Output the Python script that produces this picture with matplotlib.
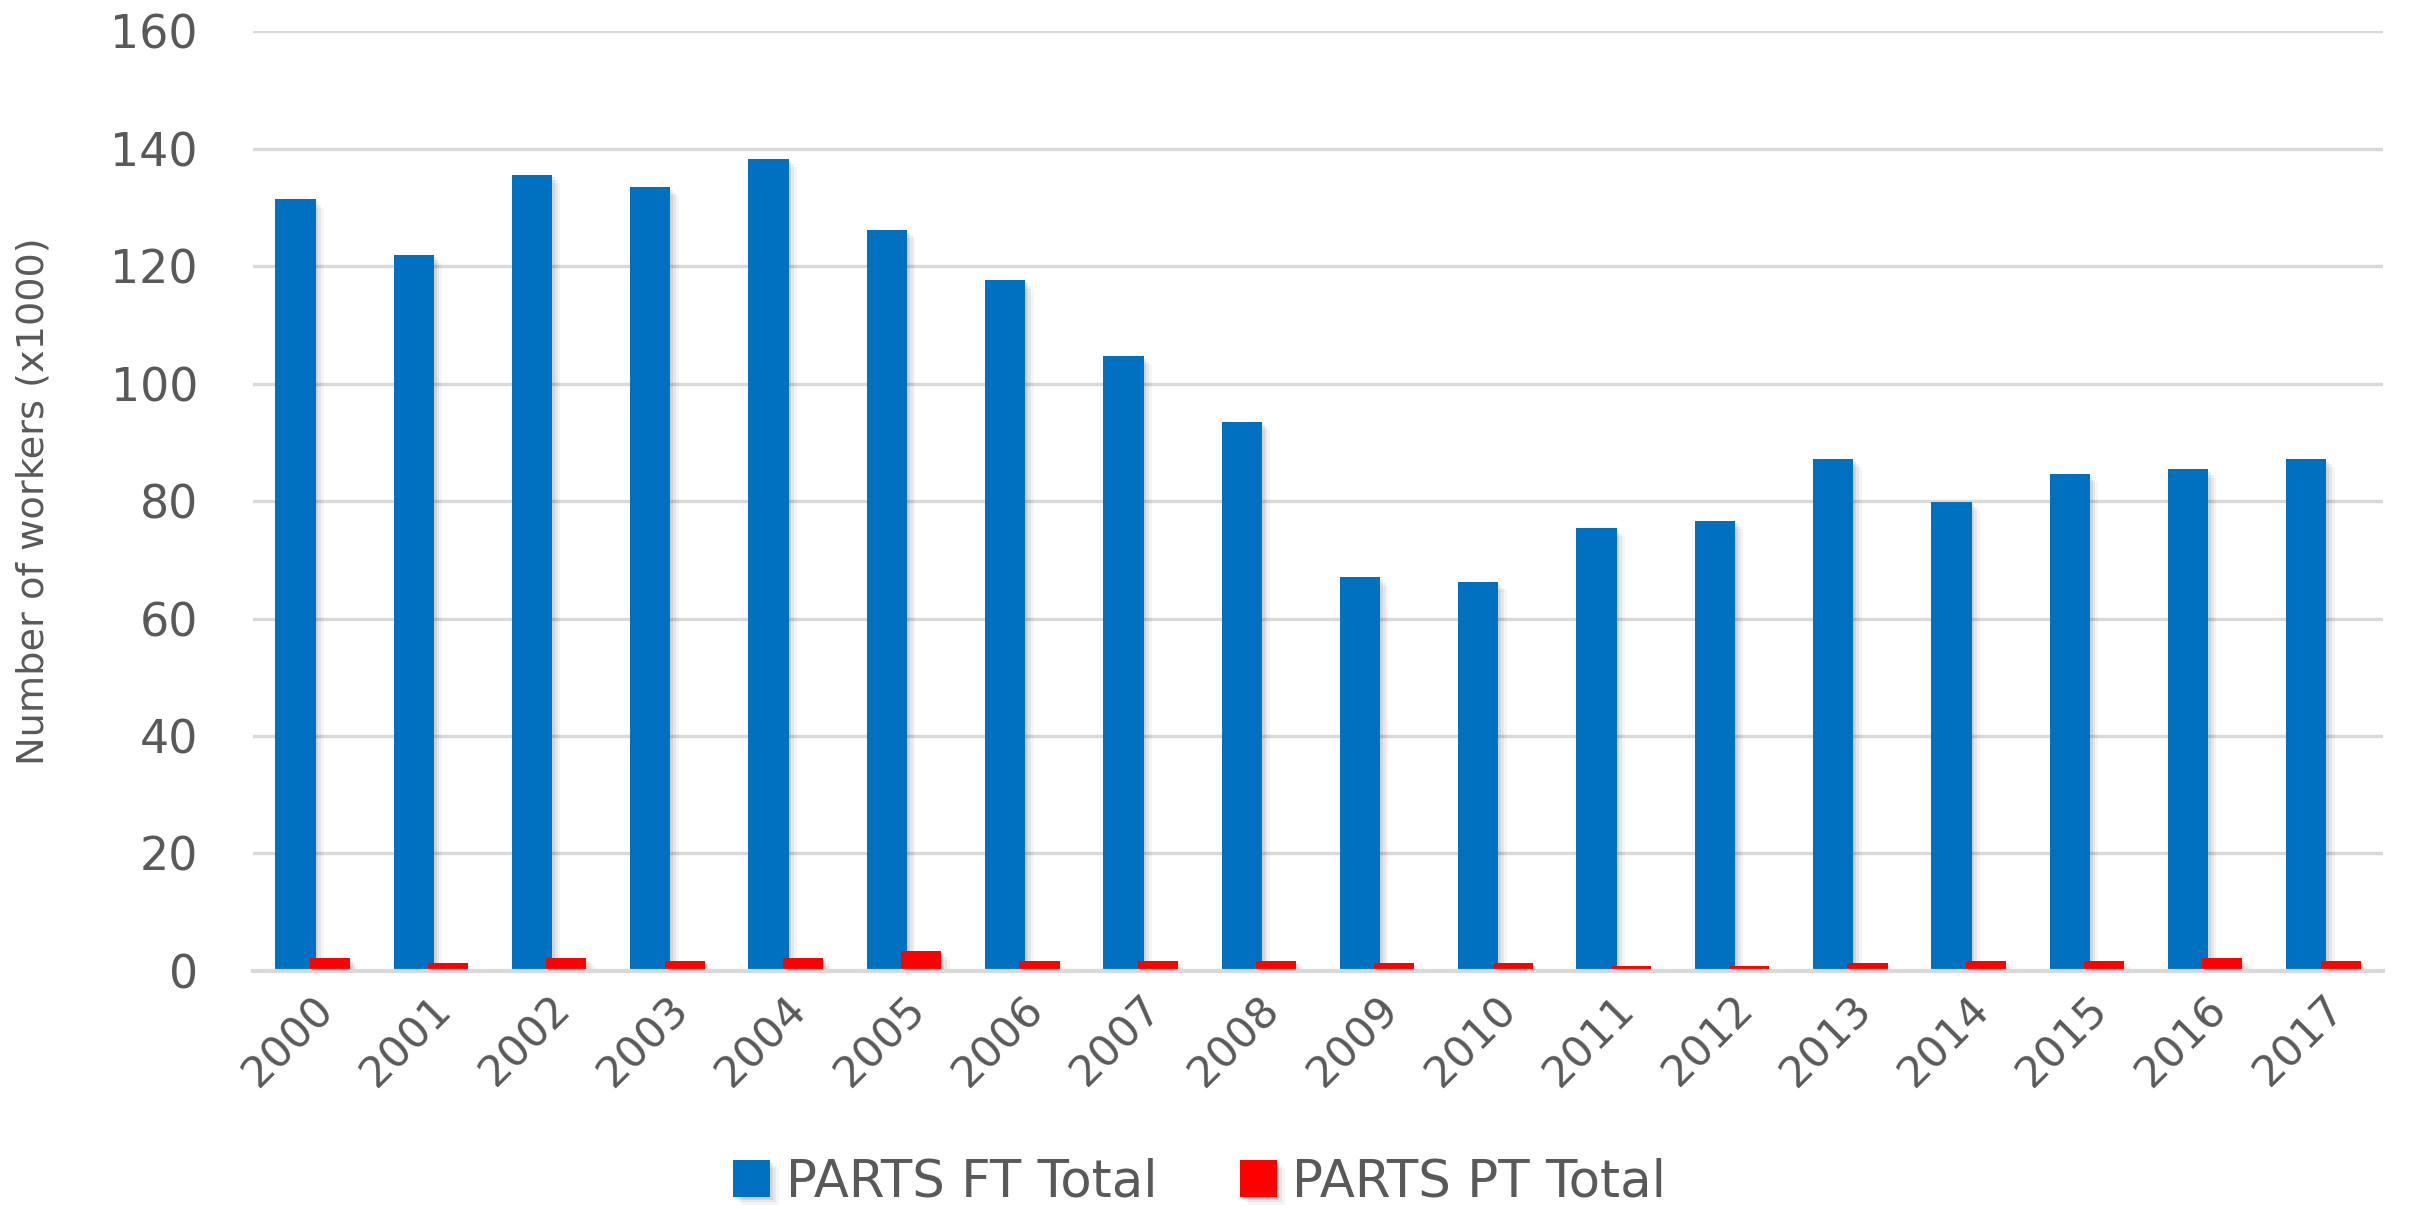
import numpy as np
import matplotlib.pyplot as plt
import matplotlib.patheffects as pe

years = [str(y) for y in range(2000, 2018)]
ft_total = [131.4, 122.0, 135.6, 133.5, 138.3, 126.2, 117.6, 104.7, 93.5,
            67.0, 66.2, 75.4, 76.7, 87.2, 79.9, 84.6, 85.4, 87.2]
pt_total = [2.2, 1.3, 2.2, 1.6, 2.2, 3.3, 1.6, 1.6, 1.6,
            1.3, 1.3, 0.8, 0.8, 1.3, 1.6, 1.6, 2.2, 1.6]
yticks = [0, 20, 40, 60, 80, 100, 120, 140, 160]

plt.rcParams['font.family'] = ['DejaVu Sans']
txt = "#595959"
grid = "#d9d9d9"

fig = plt.figure(figsize=(24.14, 12.09), dpi=100)
ax = fig.add_axes([0.105, 0.197, 0.882, 0.777])

x = np.arange(len(years))
w = 0.34
off = 0.145

# soft shadow like the excel bars, faked with a few offset layers
shadow = [pe.SimplePatchShadow(offset=(d, -d), shadow_rgbFace="#000000", alpha=a)
          for d, a in [(6, 0.04), (4, 0.06), (2, 0.08)]] + [pe.Normal()]

b1 = ax.bar(x - off, ft_total, w, color="#0070C0", label="PARTS FT Total", zorder=3)
b2 = ax.bar(x + off, pt_total, w, color="#FF0000", label="PARTS PT Total", zorder=4)
for b in list(b1) + list(b2):
    b.set_path_effects(shadow)

ax.set_xlim(-0.5, len(years) - 0.5)
ax.set_ylim(0, 160)
ax.set_yticks(yticks)
ax.set_xticks(x)
ax.set_xticklabels(years, rotation=45, ha="right", rotation_mode="anchor", fontsize=31)

ax.yaxis.grid(True, color=grid, linewidth=2.4, zorder=0)
ax.set_axisbelow(True)
for s in ["top", "right", "left"]:
    ax.spines[s].set_visible(False)
ax.spines["bottom"].set_color(grid)
ax.spines["bottom"].set_linewidth(3)
ax.spines["bottom"].set_zorder(5)

ax.tick_params(axis="both", length=0, labelcolor=txt)
ax.tick_params(axis="y", pad=40, labelsize=33)
ax.tick_params(axis="x", pad=12)

ax.set_ylabel("Number of workers (x1000)", fontsize=27.5, color=txt)
ax.yaxis.set_label_coords(-0.095, 0.5)

fig.legend(handles=[b1, b2], loc="center", bbox_to_anchor=(0.497, 0.022),
           ncol=2, frameon=False, fontsize=37, labelcolor=txt,
           handlelength=0.72, handleheight=0.72, handletextpad=0.3, columnspacing=1.6)

fig.savefig("out.png", dpi=100)
